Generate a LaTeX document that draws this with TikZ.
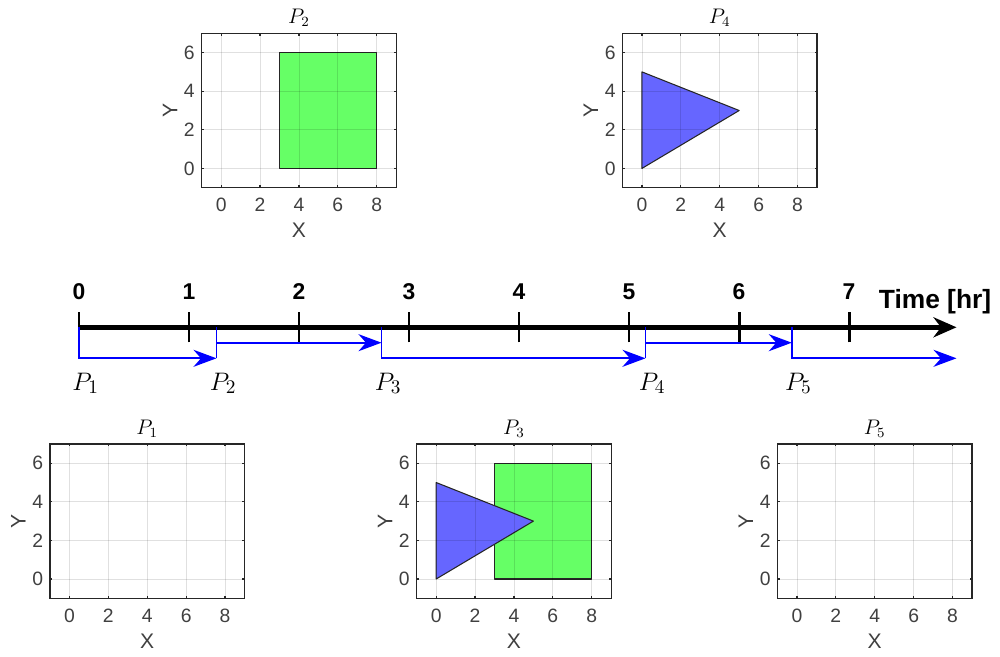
\documentclass[tikz,border=0pt]{standalone}
\usepackage{fontspec}
\setsansfont{Liberation Sans}
\usetikzlibrary{arrows.meta,positioning}
\definecolor{axgray}{HTML}{262626}
\definecolor{ticktext}{HTML}{404040}
\definecolor{shapegreen}{HTML}{66FF66}
\definecolor{shapeblue}{HTML}{6666FF}
\definecolor{switchblue}{HTML}{0000FF}

\begin{document}
\begin{tikzpicture}[
    ticklab/.style={font=\sffamily\fontsize{11}{13}\selectfont,text=ticktext,inner sep=0pt},
    axlab/.style={font=\sffamily\fontsize{12}{14}\selectfont,text=ticktext,inner sep=0pt},
    plottitle/.style={font=\fontsize{12}{14}\selectfont,inner sep=0pt,anchor=base},
    gridline/.style={black,opacity=0.12,line width=0.5pt},
    axframe/.style={axgray,line width=0.7pt},
    shapeedge/.style={black!85,line width=0.6pt,line join=round},
    timeaxis/.style={line width=2.6pt,-{Stealth[length=0.46cm,width=0.4cm]}},
    tickmark/.style={line width=1.7pt},
    hourlab/.style={font=\sffamily\bfseries\fontsize{13}{15}\selectfont,inner sep=0pt},
    timetitle/.style={font=\sffamily\bfseries\fontsize{15}{18}\selectfont,inner sep=0pt},
    switchline/.style={switchblue,line width=1.1pt},
    switcharrow/.style={switchline,-{Stealth[length=0.46cm,width=0.34cm]}},
    switchlab/.style={font=\fontsize{15.5}{18}\selectfont,inner sep=0pt,anchor=base west}]
  \useasboundingbox (0,0) rectangle (20,13.12);

  % origins of the five shape plots
  \coordinate (o1) at (1.389,1.540);
  \coordinate (o2) at (4.423,9.752);
  \coordinate (o3) at (8.723,1.540);
  \coordinate (o4) at (12.839,9.752);
  \coordinate (o5) at (15.939,1.540);

  % shapes
  \begin{scope}[shift={(o2)},x=0.389cm,y=0.386cm]
    \draw[shapeedge,fill=shapegreen] (3,0) rectangle (8,6);
  \end{scope}
  \begin{scope}[shift={(o3)},x=0.389cm,y=0.386cm]
    \draw[shapeedge,fill=shapegreen] (3,0) rectangle (8,6);
    \draw[shapeedge,fill=shapeblue] (0,0) -- (5,3) -- (0,5) -- cycle;
  \end{scope}
  \begin{scope}[shift={(o4)},x=0.389cm,y=0.386cm]
    \draw[shapeedge,fill=shapeblue] (0,0) -- (5,3) -- (0,5) -- cycle;
  \end{scope}

  % axes of the plots
  \foreach \n in {1,...,5}{
    \begin{scope}[shift={(o\n)},x=0.389cm,y=0.386cm]
      \foreach \gx in {0,2,...,8}{
        \draw[gridline] (\gx,-1) -- (\gx,7);
        \draw[axframe] (\gx,-1) -- ++(0,0.12) (\gx,7) -- ++(0,-0.12);
        \node[ticklab] at (\gx,-1.9) {\gx};
      }
      \foreach \gy in {0,2,4,6}{
        \draw[gridline] (-1,\gy) -- (9,\gy);
        \draw[axframe] (-1,\gy) -- ++(0.12,0) (9,\gy) -- ++(-0.12,0);
        \node[ticklab,anchor=east] at (-1.34,\gy) {\gy};
      }
      \draw[axframe] (-1,-1) rectangle (9,7);
      \node[axlab] (x\n) at (4,-3.2) {X};
      \node[axlab,rotate=90] (y\n) at (-2.63,3) {Y};
      \node[plottitle] (title\n) at (4,7.5) {$P_\n$};
    \end{scope}
  }

  % time line
  \coordinate (t0) at (1.58,6.574);
  \coordinate (tend) at (19.13,6.574);
  \foreach \h in {0,...,7}{
    \draw[tickmark] (1.58+2.2*\h,6.274) -- ++(0,0.6);
    \node[hourlab] (h\h) at (1.58+2.2*\h,7.286) {\h};
  }
  \draw[timeaxis] (t0) -- (tend);
  \node[timetitle,anchor=east] (timelab) at (19.83,7.09) {Time [hr]};

  % switching points
  \foreach \t [count=\i] in {0,1.25,2.75,5.15,6.48}
    \coordinate (sw\i) at (1.58+2.2*\t,6.574);
  \coordinate (lo) at (0,5.954);
  \coordinate (hi) at (0,6.266);
  \coordinate (labbase) at (0,5.32);

  \draw[switcharrow] (sw1) -- (sw1 |- lo) -- (sw2 |- lo);
  \draw[switcharrow] (sw2) -- (sw2 |- lo) (sw2 |- hi) -- (sw3 |- hi);
  \draw[switcharrow] (sw3) -- (sw3 |- lo) -- (sw4 |- lo);
  \draw[switcharrow] (sw4) -- (sw4 |- lo) (sw4 |- hi) -- (sw5 |- hi);
  \draw[switcharrow] (sw5) -- (sw5 |- lo) -- (tend |- lo);

  \foreach \i in {1,...,5}
    \node[switchlab,xshift=-0.14cm] (plab\i) at (sw\i |- labbase) {$P_\i$};
\end{tikzpicture}
\end{document}
